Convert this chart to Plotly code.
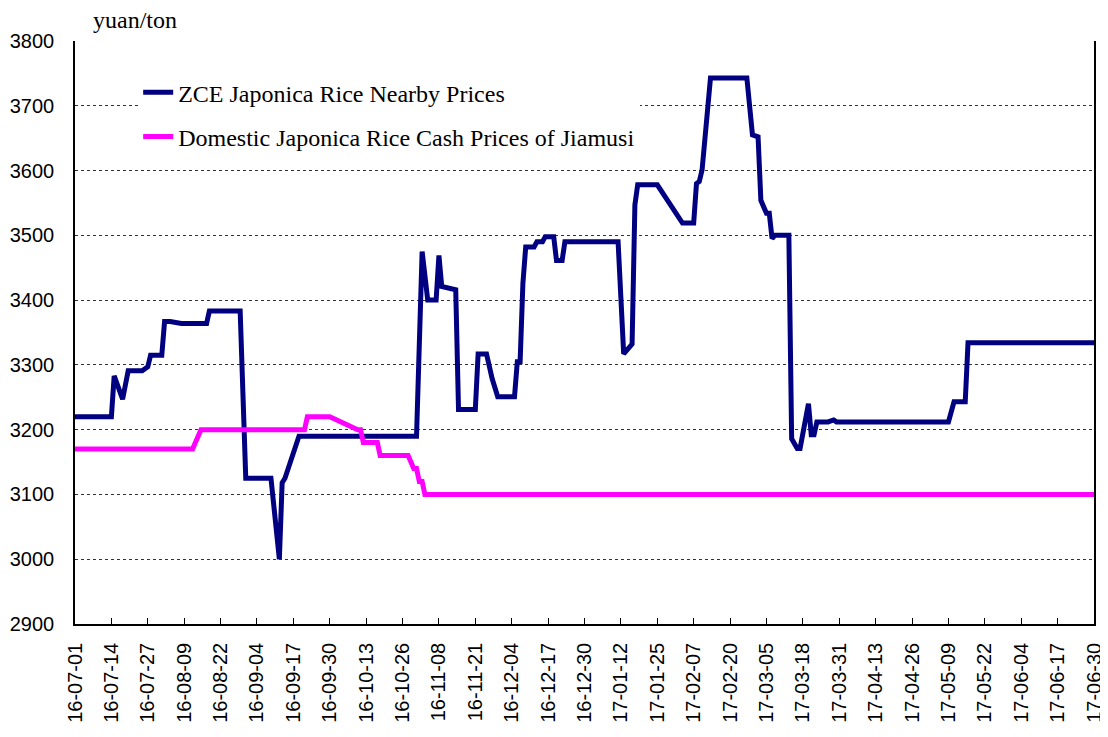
import plotly.graph_objects as go

zce_dates = ["2016-07-01","2016-07-14","2016-07-15","2016-07-18","2016-07-20","2016-07-25","2016-07-27","2016-07-28",
             "2016-08-01","2016-08-02","2016-08-04","2016-08-08","2016-08-17","2016-08-18","2016-08-29","2016-08-31",
             "2016-09-09","2016-09-12","2016-09-13","2016-09-14","2016-09-19","2016-10-31","2016-11-02","2016-11-04",
             "2016-11-07","2016-11-08","2016-11-09","2016-11-14","2016-11-15","2016-11-21","2016-11-22","2016-11-25",
             "2016-11-27","2016-11-29","2016-12-05","2016-12-06","2016-12-07","2016-12-08","2016-12-09","2016-12-12",
             "2016-12-13","2016-12-15","2016-12-16","2016-12-19","2016-12-20","2016-12-22","2016-12-23","2017-01-11",
             "2017-01-13","2017-01-16","2017-01-17","2017-01-18","2017-01-25","2017-02-03","2017-02-07","2017-02-08",
             "2017-02-09","2017-02-10","2017-02-13","2017-02-26","2017-02-28","2017-03-02","2017-03-03","2017-03-05",
             "2017-03-06","2017-03-07","2017-03-08","2017-03-13","2017-03-14","2017-03-16","2017-03-17","2017-03-20",
             "2017-03-21","2017-03-22","2017-03-23","2017-03-27","2017-03-29","2017-03-30","2017-05-09","2017-05-11",
             "2017-05-15","2017-05-16","2017-06-30"]
zce_values = [3220,3220,3283,3247,3291,3291,3297,3315,
              3315,3367,3367,3364,3364,3383,3383,3125,
              3125,3000,3118,3125,3190,3190,3475,3400,
              3400,3469,3421,3416,3231,3231,3317,3317,
              3279,3251,3251,3305,3305,3426,3482,3482,
              3490,3490,3498,3498,3461,3461,3490,3490,
              3317,3332,3547,3578,3578,3519,3519,3580,
              3583,3601,3743,3743,3655,3652,3554,3534,
              3534,3495,3500,3500,3186,3171,3171,3240,
              3192,3192,3212,3212,3215,3212,3212,3243,
              3243,3334,3334]

cash_dates = ["2016-07-01","2016-08-12","2016-08-15","2016-09-21","2016-09-22","2016-09-30","2016-10-10","2016-10-11",
              "2016-10-12","2016-10-17","2016-10-18","2016-10-28","2016-10-30","2016-10-31","2016-11-01","2016-11-02",
              "2016-11-03","2017-06-30"]
cash_values = [3170,3170,3200,3200,3220,3220,3200,3200,
               3180,3180,3160,3160,3140,3140,3120,3120,
               3100,3100]

tick_dates = ["2016-07-01","2016-07-14","2016-07-27","2016-08-09","2016-08-22","2016-09-04","2016-09-17","2016-09-30",
              "2016-10-13","2016-10-26","2016-11-08","2016-11-21","2016-12-04","2016-12-17","2016-12-30","2017-01-12",
              "2017-01-25","2017-02-07","2017-02-20","2017-03-05","2017-03-18","2017-03-31","2017-04-13","2017-04-26",
              "2017-05-09","2017-05-22","2017-06-04","2017-06-17","2017-06-30"]
tick_labels = [d[2:] for d in tick_dates]

series_names = ["ZCE Japonica Rice Nearby Prices", "Domestic Japonica Rice Cash Prices of Jiamusi"]

fig = go.Figure()
fig.add_trace(go.Scatter(x=zce_dates, y=zce_values, mode="lines", name=series_names[0],
                         legendgroup="a", line=dict(color="#000080", width=5)))
fig.add_trace(go.Scatter(x=cash_dates, y=cash_values, mode="lines", name=series_names[1],
                         legendgroup="b", line=dict(color="#FF00FF", width=5)))

# the page has an 8px body margin, so the figure is sized/margined to land the plot area correctly
fig.update_layout(
    width=1100, height=729,
    margin=dict(l=67, r=14, t=33, b=113, autoexpand=False),
    plot_bgcolor="white", paper_bgcolor="white",
    font=dict(family="Liberation Sans, Arial", size=20, color="black"),
    showlegend=True,
    legend=dict(x=0.062, y=0.95, xanchor="left", yanchor="top",
                bgcolor="white", borderwidth=0,
                font=dict(family="Liberation Serif, Times New Roman", size=24, color="black"),
                tracegroupgap=10),
    annotations=[dict(text="yuan/ton", xref="paper", yref="paper", x=0.016, y=1.036,
                      xanchor="left", yanchor="middle", showarrow=False,
                      font=dict(family="Liberation Serif, Times New Roman", size=24, color="black"))],
)
fig.update_xaxes(type="date", range=["2016-07-01", "2017-06-30"], automargin=False,
                 tickvals=tick_dates, ticktext=tick_labels, tickangle=-90,
                 showgrid=False, showline=True, linecolor="black", linewidth=1.5,
                 ticks="inside", ticklen=6, tickcolor="black", zeroline=False,
                 ticklabelstandoff=9,
                 tickfont=dict(family="Liberation Sans, Arial", size=20, color="black"))
fig.update_yaxes(range=[2900, 3800], dtick=100, tick0=2900, automargin=False,
                 showgrid=True, gridcolor="#333333", griddash="dot", gridwidth=1,
                 showline=True, mirror=True, linecolor="black", linewidth=1.5,
                 ticks="", zeroline=False, ticklabelstandoff=15,
                 tickfont=dict(family="Liberation Sans, Arial", size=20, color="black"))

fig.write_html("out.html")
